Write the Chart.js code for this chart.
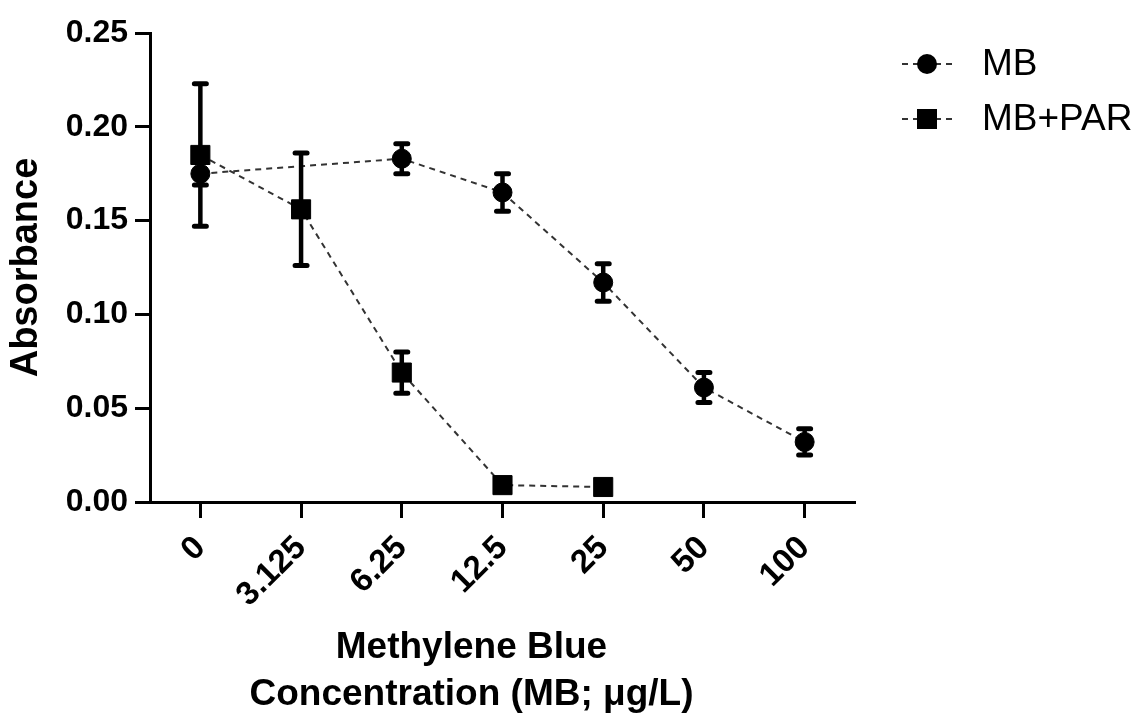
<!DOCTYPE html>
<html>
<head>
<meta charset="utf-8">
<title>Absorbance vs Methylene Blue</title>
<script src="https://cdn.jsdelivr.net/npm/chart.js"></script>
<style>
  html, body { margin: 0; padding: 0; background: #fff; }
  #wrap { width: 1145px; height: 722px; position: relative; }
</style>
</head>
<body>
<div id="wrap"><canvas id="absChart"></canvas></div>
<script>
// concentrations (MB; ug/L)
const categories = ["0", "3.125", "6.25", "12.5", "25", "50", "100"];

// MB alone (no reading at 3.125)
const mbValues = [0.175, null, 0.183, 0.165, 0.117, 0.061, 0.032];
const mbErrors = [0.006, null, 0.008, 0.010, 0.010, 0.008, 0.007];

// MB + PAR
const mbParValues = [0.185, 0.156, 0.069, 0.009, 0.008, null, null];
const mbParErrors = [0.038, 0.030, 0.011, 0, 0, null, null];

const yTicks = [0, 0.05, 0.10, 0.15, 0.20, 0.25];
const xTitle = ["Methylene Blue", "Concentration (MB; \u03bcg/L)"];

const FONT = "'Liberation Sans', Arial, sans-serif";
Chart.defaults.font.family = FONT;
Chart.defaults.color = "#000";

// vertical error bars, drawn with the y scale
const errorBars = {
    id: "errorBars",
    afterDatasetsDraw(chart) {
        const ctx = chart.ctx;
        const y = chart.scales.y;
        chart.data.datasets.forEach((ds, di) => {
            const meta = chart.getDatasetMeta(di);
            ds.errors.forEach((e, i) => {
                const v = ds.data[i];
                if (v == null || !e) return;
                const px = meta.data[i].x;
                const top = y.getPixelForValue(v + e);
                const bot = y.getPixelForValue(v - e);
                ctx.save();
                ctx.strokeStyle = "#000";
                ctx.lineWidth = 4.5;
                ctx.beginPath();
                ctx.moveTo(px, top);
                ctx.lineTo(px, bot);
                ctx.stroke();
                ctx.lineWidth = 5;
                ctx.lineCap = "round";
                ctx.beginPath();
                ctx.moveTo(px - 6, top); ctx.lineTo(px + 6, top);
                ctx.moveTo(px - 6, bot); ctx.lineTo(px + 6, bot);
                ctx.stroke();
                ctx.restore();
            });
        });
    }
};

// legend with dashed line through the marker, plus the x axis title
// (the title sits a little left of the plot centre in the original)
const extras = {
    id: "extras",
    afterDraw(chart) {
        const ctx = chart.ctx;
        const area = chart.chartArea;
        const x0 = area.right + 47;
        chart.data.datasets.forEach((ds, i) => {
            const cy = 64 + i * 55;
            ctx.save();
            ctx.strokeStyle = ds.borderColor;
            ctx.lineWidth = 2;
            ctx.setLineDash([6, 5]);
            ctx.beginPath();
            ctx.moveTo(x0, cy);
            ctx.lineTo(x0 + 50, cy);
            ctx.stroke();
            ctx.setLineDash([]);
            ctx.fillStyle = "#000";
            if (ds.pointStyle === "rect") {
                ctx.fillRect(x0 + 25 - 10, cy - 10, 20, 20);
            } else {
                ctx.beginPath();
                ctx.arc(x0 + 25, cy, 10, 0, Math.PI * 2);
                ctx.fill();
            }
            ctx.font = "37px " + FONT;
            ctx.textBaseline = "middle";
            ctx.textAlign = "left";
            ctx.fillText(ds.label, x0 + 80, cy + 1);
            ctx.restore();
        });

        ctx.save();
        ctx.font = "bold 37px " + FONT;
        ctx.fillStyle = "#000";
        ctx.textAlign = "center";
        ctx.textBaseline = "middle";
        const cx = (area.left + area.right) / 2 - 31;
        xTitle.forEach((line, i) => {
            ctx.fillText(line, cx, chart.height - 74 + i * 47);
        });
        ctx.restore();
    }
};

new Chart(document.getElementById("absChart"), {
    type: "line",
    data: {
        labels: categories,
        datasets: [{
            label: "MB",
            data: mbValues,
            errors: mbErrors,
            borderColor: "#333",
            borderWidth: 2,
            borderDash: [6, 5],
            tension: 0,
            spanGaps: true,
            pointStyle: "circle",
            pointRadius: 9.5,
            pointBackgroundColor: "#000",
            pointBorderColor: "#000",
            pointBorderWidth: 1
        }, {
            label: "MB+PAR",
            data: mbParValues,
            errors: mbParErrors,
            borderColor: "#333",
            borderWidth: 2,
            borderDash: [6, 5],
            tension: 0,
            pointStyle: "rect",
            pointRadius: 13.5,
            pointBackgroundColor: "#000",
            pointBorderColor: "#000",
            pointBorderWidth: 1
        }]
    },
    options: {
        responsive: true,
        maintainAspectRatio: false,
        animation: false,
        layout: { padding: { top: 33, right: 290, bottom: 0, left: 0 } },
        plugins: {
            legend: { display: false },
            tooltip: { enabled: false }
        },
        scales: {
            x: {
                offset: true,
                grid: { drawOnChartArea: false, tickLength: 16, tickWidth: 3, tickColor: "#000", offset: false },
                border: { display: true, color: "#000", width: 3 },
                ticks: {
                    autoSkip: false,
                    minRotation: 45,
                    maxRotation: 45,
                    padding: 14,
                    color: "#000",
                    font: { size: 33, weight: "bold", lineHeight: 0.9 }
                },
                title: { display: false },
                afterFit(scale) { scale.height = 220; }
            },
            y: {
                min: 0,
                max: 0.25,
                afterBuildTicks(scale) { scale.ticks = yTicks.map(v => ({ value: v })); },
                grid: { drawOnChartArea: false, tickLength: 15, tickWidth: 3, tickColor: "#000" },
                border: { display: true, color: "#000", width: 3 },
                ticks: {
                    padding: 7,
                    color: "#000",
                    font: { size: 32, weight: "bold" },
                    callback: v => Number(v).toFixed(2)
                },
                title: {
                    display: true,
                    text: "Absorbance",
                    color: "#000",
                    font: { size: 38, weight: "bold", lineHeight: 1.2 },
                    padding: { top: 4, bottom: 0 }
                },
                afterFit(scale) { scale.width = 150; }
            }
        }
    },
    plugins: [errorBars, extras]
});
</script>
</body>
</html>
